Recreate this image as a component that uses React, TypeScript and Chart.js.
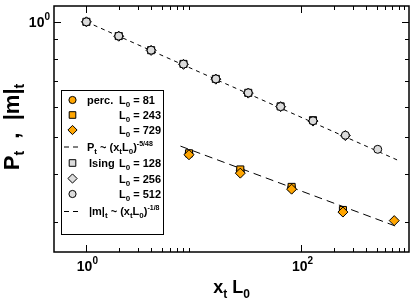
import React, { useEffect, useRef } from 'react';
import { Chart, registerables } from 'chart.js';

Chart.register(...registerables);

// ---- data ----
const isingX = [1, 2, 4, 8, 16, 32, 64, 128, 256, 512];
const ising128 = [1.0, 0.918, 0.843, 0.776, 0.709, 0.652, 0.601, 0.553];
const ising256 = [1.0, 0.917, 0.842, 0.774, 0.708, 0.651, 0.600, 0.550, 0.504];
const ising512 = [1.0, 0.918, 0.843, 0.775, 0.709, 0.652, 0.600, 0.551, 0.505, 0.464];
const percX = [9, 27, 81, 243, 729];
const perc81 = [0.452, 0.408, 0.368];
const perc243 = [0.453, 0.411, 0.370, 0.322];
const perc729 = [0.449, 0.402, 0.365, 0.318, 0.302];
const isingFitX = [1, 780];
const isingFitY = [1.0, 0.435];
const percFitX = [7.5, 780];
const percFitY = [0.473, 0.291];

const xMajorTicks = [1, 100];
const xMajorExp = ['0', '2'];
const xMinorTicks = [2, 3, 4, 5, 6, 7, 8, 9, 200, 300, 400, 500, 600, 700, 800, 900];
const yMajorTicks = [1];
const yMajorExp = ['0'];
const yMinorTicks = [0.3, 0.4, 0.5, 0.6, 0.7, 0.8, 0.9];

const ORANGE = '#FFA500';
const GREY = '#DCDCDC';
const FONT = '"Liberation Sans", Arial, Helvetica, sans-serif';

const pts = (xs: number[], ys: number[]) => ys.map((y, i) => ({ x: xs[i], y }));

type Seg = { t: string; size: number; dy?: number; bold?: boolean };

function fontOf(s: Seg) {
  return `${s.bold === false ? '' : 'bold '}${s.size}px ${FONT}`;
}
function richWidth(ctx: CanvasRenderingContext2D, segs: Seg[]) {
  let w = 0;
  for (const s of segs) {
    ctx.font = fontOf(s);
    w += ctx.measureText(s.t).width;
  }
  return w;
}
function drawRich(ctx: CanvasRenderingContext2D, segs: Seg[], x: number, y: number, align: 'left' | 'center' | 'right') {
  const w = richWidth(ctx, segs);
  let cx = align === 'left' ? x : align === 'center' ? x - w / 2 : x - w;
  ctx.textAlign = 'left';
  ctx.textBaseline = 'alphabetic';
  for (const s of segs) {
    ctx.font = fontOf(s);
    ctx.fillText(s.t, cx, y + (s.dy || 0));
    cx += ctx.measureText(s.t).width;
  }
}

function drawMarker(ctx: CanvasRenderingContext2D, style: string, x: number, y: number, fill: string) {
  ctx.beginPath();
  if (style === 'circle') {
    ctx.arc(x, y, 3.6, 0, Math.PI * 2);
  } else if (style === 'rect') {
    const s = 3.3;
    ctx.rect(x - s, y - s, 2 * s, 2 * s);
  } else {
    const r = 4.6;
    ctx.moveTo(x, y - r);
    ctx.lineTo(x + r, y);
    ctx.lineTo(x, y + r);
    ctx.lineTo(x - r, y);
    ctx.closePath();
  }
  ctx.fillStyle = fill;
  ctx.fill();
  ctx.lineWidth = 1;
  ctx.strokeStyle = '#000';
  ctx.stroke();
}

const decorPlugin = {
  id: 'decor',
  afterDraw(chart: any) {
    const ctx: CanvasRenderingContext2D = chart.ctx;
    const { left, right, top, bottom } = chart.chartArea;
    const xs = chart.scales.x;
    const ys = chart.scales.y;
    ctx.save();
    ctx.strokeStyle = '#000';
    ctx.fillStyle = '#000';
    // frame
    ctx.lineWidth = 1.5;
    ctx.strokeRect(left, top, right - left, bottom - top);
    // ticks
    ctx.lineWidth = 1;
    const tickX = (v: number, len: number) => {
      const px = Math.round(xs.getPixelForValue(v)) + 0.5;
      ctx.beginPath();
      ctx.moveTo(px, bottom);
      ctx.lineTo(px, bottom - len);
      ctx.moveTo(px, top);
      ctx.lineTo(px, top + len);
      ctx.stroke();
    };
    const tickY = (v: number, len: number) => {
      const py = Math.round(ys.getPixelForValue(v)) + 0.5;
      ctx.beginPath();
      ctx.moveTo(left, py);
      ctx.lineTo(left + len, py);
      ctx.moveTo(right, py);
      ctx.lineTo(right - len, py);
      ctx.stroke();
    };
    xMajorTicks.forEach((v) => tickX(v, 7));
    xMinorTicks.forEach((v) => tickX(v, 4));
    yMajorTicks.forEach((v) => tickY(v, 7));
    yMinorTicks.forEach((v) => tickY(v, 4));

    // tick labels
    xMajorTicks.forEach((v, i) => {
      const px = xs.getPixelForValue(v);
      drawRich(ctx, [{ t: '10', size: 14 }, { t: xMajorExp[i], size: 10, dy: -7 }], px + 1, bottom + 19, 'center');
    });
    yMajorTicks.forEach((v, i) => {
      const py = ys.getPixelForValue(v);
      drawRich(ctx, [{ t: '10', size: 14 }, { t: yMajorExp[i], size: 10, dy: -7 }], left - 4, py + 5, 'right');
    });

    // axis titles
    drawRich(ctx, [
      { t: 'x', size: 18 },
      { t: 't', size: 12, dy: 5 },
      { t: ' L', size: 18 },
      { t: '0', size: 12, dy: 5 },
    ], (left + right) / 2, bottom + 41, 'center');
    ctx.save();
    ctx.translate(19, 127);
    ctx.rotate(-Math.PI / 2);
    drawRich(ctx, [
      { t: 'P', size: 22 },
      { t: 't', size: 14, dy: 5 },
      { t: '  ,  |m|', size: 22 },
      { t: 't', size: 14, dy: 5 },
    ], 0, 0, 'center');
    ctx.restore();

    // legend
    const bx = 61, by = 90, bw = 102, bh = 144;
    ctx.fillStyle = '#fff';
    ctx.fillRect(bx, by, bw, bh);
    ctx.lineWidth = 1;
    ctx.strokeStyle = '#000';
    ctx.strokeRect(bx + 0.5, by + 0.5, bw, bh);
    ctx.fillStyle = '#000';
    const rowYs = [100, 115, 130, 146.5, 163, 178.5, 194, 211];
    const mx = 72.5;
    const tx1 = 87;
    const tx2 = 119;
    const L0 = (rest: string): Seg[] => [
      { t: 'L', size: 11 },
      { t: '0', size: 8, dy: 3 },
      { t: ' = ' + rest, size: 11 },
    ];
    const dashSample = (y: number) => {
      ctx.save();
      ctx.strokeStyle = '#000';
      ctx.lineWidth = 1;
      ctx.setLineDash([5, 4]);
      ctx.beginPath();
      ctx.moveTo(64, y + 0.5);
      ctx.lineTo(82, y + 0.5);
      ctx.stroke();
      ctx.restore();
    };
    const rows: { m?: [string, string]; line?: boolean; a?: Seg[]; aX?: number; b?: Seg[] }[] = [
      { m: ['circle', ORANGE], a: [{ t: 'perc.', size: 11 }], b: L0('81') },
      { m: ['rect', ORANGE], b: L0('243') },
      { m: ['rectRot', ORANGE], b: L0('729') },
      {
        line: true,
        a: [
          { t: 'P', size: 11 },
          { t: 't', size: 8, dy: 3 },
          { t: ' ~ (x', size: 11 },
          { t: 't', size: 8, dy: 3 },
          { t: 'L', size: 11 },
          { t: '0', size: 8, dy: 3 },
          { t: ')', size: 11 },
          { t: '-5/48', size: 7, dy: -5 },
        ],
      },
      { m: ['rect', GREY], a: [{ t: 'Ising', size: 11 }], aX: 89, b: L0('128') },
      { m: ['rectRot', GREY], b: L0('256') },
      { m: ['circle', GREY], b: L0('512') },
      {
        line: true,
        aX: 89,
        a: [
          { t: '|m|', size: 11 },
          { t: 't', size: 8, dy: 3 },
          { t: ' ~ (x', size: 11 },
          { t: 't', size: 8, dy: 3 },
          { t: 'L', size: 11 },
          { t: '0', size: 8, dy: 3 },
          { t: ')', size: 11 },
          { t: '-1/8', size: 7, dy: -5 },
        ],
      },
    ];
    rows.forEach((r, i) => {
      const y = rowYs[i];
      if (r.m) drawMarker(ctx, r.m[0], mx, y, r.m[1]);
      if (r.line) dashSample(y);
      ctx.fillStyle = '#000';
      if (r.a) drawRich(ctx, r.a, r.aX ?? tx1, y + 4, 'left');
      if (r.b) drawRich(ctx, r.b, tx2, y + 4, 'left');
    });
    ctx.restore();
  },
};

export default function App() {
  const ref = useRef<HTMLCanvasElement | null>(null);
  useEffect(() => {
    document.body.style.margin = '0';
    const canvas = ref.current;
    if (!canvas) return;
    const mk = (label: string, xs: number[], ys: number[], style: string, fill: string, r: number) => ({
      label,
      data: pts(xs, ys),
      pointStyle: style,
      pointRadius: r,
      pointBackgroundColor: fill,
      pointBorderColor: '#000',
      pointBorderWidth: 1,
      showLine: false,
    });
    const chart = new Chart(canvas, {
      type: 'scatter',
      data: {
        datasets: [
          mk('Ising L0 = 512', isingX, ising512, 'circle', GREY, 4),
          mk('Ising L0 = 256', isingX, ising256, 'rectRot', GREY, 5),
          mk('Ising L0 = 128', isingX, ising128, 'rect', GREY, 5),
          mk('perc. L0 = 729', percX, perc729, 'rectRot', ORANGE, 5),
          mk('perc. L0 = 243', percX, perc243, 'rect', ORANGE, 5),
          mk('perc. L0 = 81', percX, perc81, 'circle', ORANGE, 4),
          {
            label: '|m|t fit',
            data: pts(isingFitX, isingFitY),
            showLine: true,
            pointRadius: 0,
            borderColor: '#000',
            borderWidth: 1,
            borderDash: [4, 4],
          },
          {
            label: 'Pt fit',
            data: pts(percFitX, percFitY),
            showLine: true,
            pointRadius: 0,
            borderColor: '#000',
            borderWidth: 1,
            borderDash: [8, 5],
          },
        ] as any,
      },
      options: {
        animation: false,
        responsive: false,
        maintainAspectRatio: false,
        devicePixelRatio: 1,
        layout: { padding: { left: 54, right: 2, top: 2, bottom: 51 } },
        plugins: { legend: { display: false }, tooltip: { enabled: false } },
        scales: {
          x: { type: 'logarithmic', min: 0.5, max: 1000, display: false },
          y: { type: 'logarithmic', min: 0.25, max: 1.1, display: false },
        },
      } as any,
      plugins: [decorPlugin],
    });
    return () => chart.destroy();
  }, []);
  return (
    <div style={{ width: 415, height: 303, position: 'relative', background: '#fff' }}>
      <canvas ref={ref} width={415} height={303} />
    </div>
  );
}
